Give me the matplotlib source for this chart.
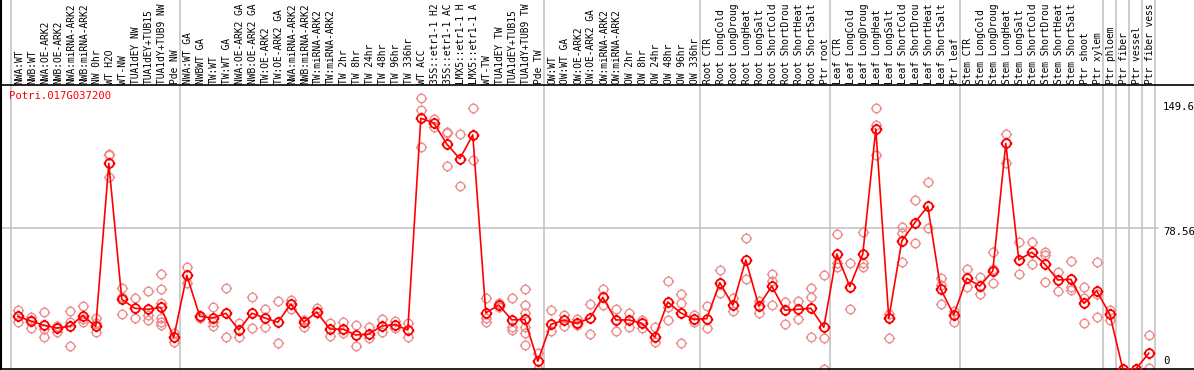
import numpy as np
import matplotlib
matplotlib.use("Agg")
import matplotlib.pyplot as plt
from matplotlib.path import Path

gene = "Potri.017G037200"

samples = [
    "NWA:WT", "NWB:WT", "NWA:OE-ARK2", "NWB:OE-ARK2", "NWA:miRNA-ARK2", "NWB:miRNA-ARK2",
    "NW 0hr", "WT H2O", "WT-NW", "TUA1dEY NW", "TUA1dEY+TUB15", "TUA1dY+TUB9 NW", "Pde NW",
    "NWA:WT GA", "NWBWT GA", "TW:WT", "TW:WT GA", "NWA:OE-ARK2 GA", "NWB:OE-ARK2 GA",
    "TW:OE-ARK2", "TW:OE-ARK2 GA", "NWA:miRNA-ARK2", "NWB:miRNA-ARK2", "TW:miRNA-ARK2",
    "TW:miRNA-ARK2", "TW 2hr", "TW 8hr", "TW 24hr", "TW 48hr", "TW 96hr", "TW 336hr",
    "WT ACC", "35S::etr1-1 H2O", "35S::etr1-1 ACC", "LMX5::etr1-1 H2O", "LMX5::etr1-1 ACC",
    "WT-TW", "TUA1dEY TW", "TUA1dEY+TUB15", "TUA1dY+TUB9 TW", "Pde TW",
    "OW:WT", "OW:WT GA", "OW:OE-ARK2", "OW:OE-ARK2 GA", "OW:miRNA-ARK2", "OW:miRNA-ARK2",
    "OW 2hr", "OW 8hr", "OW 24hr", "OW 48hr", "OW 96hr", "OW 336hr",
    "Root CTR", "Root LongCold", "Root LongDrought", "Root LongHeat", "Root LongSalt",
    "Root ShortCold", "Root ShortDrought", "Root ShortHeat", "Root ShortSalt", "Ptr root",
    "Leaf CTR", "Leaf LongCold", "Leaf LongDrought", "Leaf LongHeat", "Leaf LongSalt",
    "Leaf ShortCold", "Leaf ShortDrought", "Leaf ShortHeat", "Leaf ShortSalt", "Ptr leaf",
    "Stem CTR", "Stem LongCold", "Stem LongDrought", "Stem LongHeat", "Stem LongSalt",
    "Stem ShortCold", "Stem ShortDrought", "Stem ShortHeat", "Stem ShortSalt", "Ptr shoot",
    "Ptr xylem", "Ptr phloem", "Ptr fiber", "Ptr vessel", "Ptr fiber vessel",
]

means = [
    29.4, 26.8, 24.4, 22.9, 23.8, 29.8, 23.8, 114.8, 38.9, 33.9, 33.3, 34.4, 17.7,
    52.3, 29.4, 28.5, 31.1, 21.8, 31.1, 28.5, 26.1, 36.3, 26.2, 31.8, 22.3, 22.3,
    19.0, 19.5, 24.0, 24.8, 21.8, 140.0, 137.4, 125.6, 117.4, 130.7, 31.3, 35.7,
    27.4, 27.7, 4.3, 24.9, 27.2, 25.5, 28.3, 40.0, 27.4, 27.4, 25.5, 17.7, 37.4,
    31.3, 27.7, 28.1, 48.2, 35.6, 60.9, 35.2, 46.3, 32.9, 33.3, 33.9, 23.3, 64.2,
    46.0, 64.2, 134.0, 28.3, 71.5, 81.7, 90.8, 44.5, 30.2, 50.6, 46.3, 54.7, 126.0,
    60.9, 65.2, 58.6, 49.7, 50.1, 36.7, 43.6, 30.5, 0.0, 0.0, 8.8,
]

replicates = [
    [32.9, 26.1, 29.4], [29.2, 22.7, 27.5], [31.6, 22.5, 18.1], [24.0, 20.8, 23.5],
    [32.2, 26.2, 12.7], [35.0, 28.1, 26.1], [28.5, 20.5, 25.5], [119.3, 107.0, 119.8],
    [45.2, 30.5, 40.0], [39.5, 28.6], [43.6, 27.4, 30.2], [52.9, 44.5, 37.0, 28.5, 26.5, 24.6],
    [14.9, 20.1], [56.8, 48.2], [29.8, 28.7], [34.4, 26.0, 24.0], [45.0, 17.7],
    [25.5, 18.1], [40.0, 22.7], [33.5, 23.3], [38.0, 14.5], [38.5, 33.3],
    [27.6, 23.6], [33.9, 31.0], [25.5, 18.6], [26.1, 19.9], [24.6, 12.8], [23.3, 17.1],
    [28.1, 20.8], [26.7, 23.0], [25.5, 18.1], [151.1, 144.6, 123.8], [139.4, 135.0],
    [132.5, 131.5, 113.2], [131.2, 102.0], [145.6, 116.7], [39.5, 28.6, 26.1],
    [36.9, 34.5], [39.5, 23.3, 21.8], [44.5, 35.7, 31.4, 23.6, 19.9, 13.2], [8.8, 0.0],
    [32.9, 21.4], [30.2, 24.0], [27.7, 24.6], [36.3, 19.5], [44.5, 35.7], [33.3, 21.0],
    [31.4, 23.6], [27.4, 22.7], [23.3, 15.1], [49.0, 34.8, 27.4], [41.9, 36.7, 14.5],
    [30.2, 26.1], [35.2, 22.9], [55.1, 42.3], [39.5, 32.6], [73.1, 50.1], [38.1, 31.4],
    [53.0, 49.3, 35.7], [37.4, 25.1], [38.1, 27.7], [45.0, 40.0, 17.7], [52.5, 17.1, 0.0],
    [75.4, 59.0, 57.2], [59.0, 33.7], [76.5, 59.0, 57.1], [145.6, 136.3, 119.5],
    [30.5, 28.3, 17.1], [79.1, 76.1, 59.9], [94.4, 70.2], [104.2, 78.6],
    [50.6, 46.9, 36.3], [32.6, 26.4], [55.8, 46.0], [51.2, 41.9], [65.2, 55.7, 47.8],
    [131.2, 115.2], [71.1, 53.0], [71.1, 58.6], [65.6, 63.7, 48.6], [54.3, 43.7],
    [60.5, 46.0, 44.2], [45.6, 39.6, 25.5], [59.9, 42.0, 28.9], [32.9, 27.4],
    [0.0, 0.0], [0.0, 0.0], [18.8, 0.4],
]

boundaries = [-0.5, 12.5, 40.5, 52.5, 62.5, 72.5, 83.5, 84.5, 85.5, 86.5, 87.5]
ytick_values = [149.6, 78.56, 0]
ytick_labels = ["149.6", "78.56", "0"]
max_label_chars = 14

# ---------------------------------------------------------------------------
W, H = 1194, 370
fig = plt.figure(figsize=(W / 100, H / 100), dpi=100)
top_px, bot_px = 85, 369
ax = fig.add_axes([0, (H - bot_px) / H, 1, (bot_px - top_px) / H])

x0_px, step_px = 17.8, 13.0
ax.set_xlim((0 - x0_px) / step_px, (W - x0_px) / step_px)
ymax = 78.56 * (bot_px - top_px) / (bot_px - 228.3)
ax.set_ylim(0, ymax)

ax.spines["right"].set_visible(False)
for s in ["left", "top", "bottom"]:
    ax.spines[s].set_color("black")
    ax.spines[s].set_linewidth(1.2)
ax.set_xticks([])
ax.set_yticks([])
ax.patch.set_alpha(0)

grid_c = "#c0c0c0"
ext = (bot_px - 0) / (bot_px - top_px)
xt = ax.get_xaxis_transform()
for b in boundaries:
    ax.plot([b, b], [0, ext], transform=xt, color=grid_c, lw=1.1, clip_on=False, zorder=0)
# horizontal grid line at the middle value
gx_end = (1158 - x0_px) / step_px
ax.plot([ax.get_xlim()[0], gx_end], [ytick_values[1], ytick_values[1]],
        color=grid_c, lw=1.1, zorder=0)
# left border extends upward through the label band
ax.plot([ax.get_xlim()[0] + 0.06, ax.get_xlim()[0] + 0.06], [0, ext], transform=xt,
        color="black", lw=1.5, clip_on=False, zorder=3)

# custom marker: circle with small stubs
circ = Path.unit_circle()
verts = list(circ.vertices)
codes = list(circ.codes)
for dx, dy in [(1, 0), (-1, 0), (0, 1), (0, -1)]:
    verts += [(dx * 1.0, dy * 1.0), (dx * 1.35, dy * 1.35)]
    codes += [Path.MOVETO, Path.LINETO]
gear = Path(verts, codes)

x = np.arange(len(samples))
rep_x = []
rep_y = []
for i, reps in enumerate(replicates):
    for v in reps:
        rep_x.append(i)
        rep_y.append(v)
ax.plot(rep_x, rep_y, linestyle="none", marker=gear, markersize=8.2,
        markerfacecolor="none", markeredgecolor="#ec8e8e", markeredgewidth=1.0,
        zorder=2, clip_on=True)
ax.plot(x, means, color="#ff0000", lw=1.2, zorder=3)
ax.plot(x, means, linestyle="none", marker=gear, markersize=8.4,
        markerfacecolor="none", markeredgecolor="#ff0000", markeredgewidth=1.3, zorder=4)

mono = "DejaVu Sans Mono"
fs = 6.9
# sample labels above the plot (shown truncated, as in the reference)
for i, lab in enumerate(samples):
    fig.text((x0_px + step_px * i + 1.2) / W, (H - 84) / H, lab[:max_label_chars],
             rotation=90, ha="center", va="bottom", fontsize=fs, family=mono,
             color="black")

# right-side value labels
vfs = 7.7
fig.text(1163 / W, (H - 102) / H, ytick_labels[0], ha="left", va="top",
         fontsize=vfs, family=mono)
fig.text(1163 / W, (H - 227) / H, ytick_labels[1], ha="left", va="top",
         fontsize=vfs, family=mono)
fig.text(1163 / W, (H - 366) / H, ytick_labels[2], ha="left", va="bottom",
         fontsize=vfs, family=mono)

fig.text(9 / W, (H - 91) / H, gene, ha="left", va="top", fontsize=vfs,
         family=mono, color="#ff0000")

fig.savefig("out.png", dpi=100)
